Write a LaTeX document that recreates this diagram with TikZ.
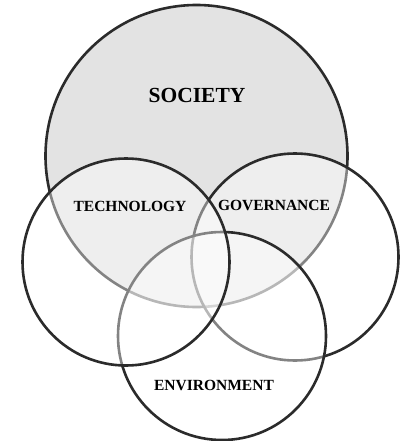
\documentclass[tikz,border=0pt]{standalone}
\usepackage{fontspec}
\setmainfont{Liberation Serif}
\begin{document}
\begin{tikzpicture}[x=1pt,y=-1pt,
  ring/.style={circle, draw=ringcol, line width=2.6pt, inner sep=0pt},
  veil/.style={ring, fill=white, fill opacity=0.42, text opacity=1, draw opacity=1},
  lbl/.style={font=\bfseries\fontsize{15.5}{16}\selectfont, text=black, inner sep=0pt}]
\definecolor{ringcol}{HTML}{2B2B2B}
\definecolor{socfill}{HTML}{E3E3E3}
\useasboundingbox (0,0) rectangle (405,441);
\node[ring, fill=socfill, minimum size=302pt] (soc) at (196.5,156) {};
\node[veil, minimum size=207pt] (gov) at (295,257) {};
\node[veil, minimum size=208pt] (env) at (222,336) {};
\node[veil, minimum size=207pt] (tech) at (126,262) {};
\node[font=\bfseries\fontsize{21.5}{22}\selectfont, inner sep=0pt] (soclbl) at (197,95) {SOCIETY};
\node[lbl] (techlbl) at (130,206) {TECHNOLOGY};
\node[lbl] (govlbl) at (274,205) {GOVERNANCE};
\node[lbl] (envlbl) at (214,385) {ENVIRONMENT};
\end{tikzpicture}
\end{document}
